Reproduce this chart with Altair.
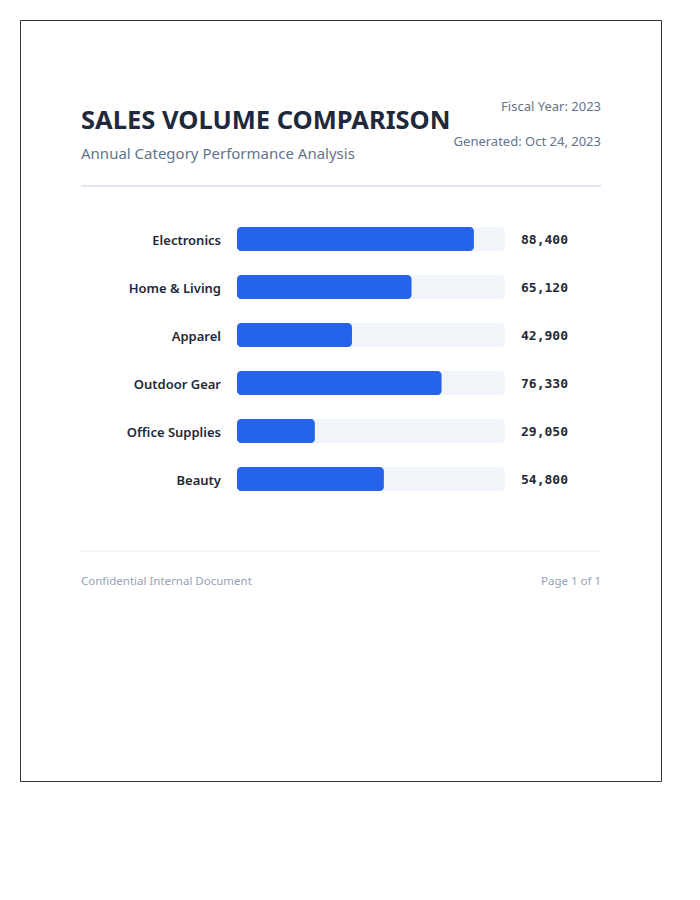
import altair as alt
import pandas as pd

categories = ["Electronics", "Home & Living", "Apparel", "Outdoor Gear", "Office Supplies", "Beauty"]
values = [88400, 65120, 42900, 76330, 29050, 54800]
track_max = 100000

title_text = "SALES VOLUME COMPARISON"
subtitle_text = "Annual Category Performance Analysis"
meta_lines = ["Fiscal Year: 2023", "Generated: Oct 24, 2023"]
footer_left = "Confidential Internal Document"
footer_right = "Page 1 of 1"

SANS = "Segoe UI, Noto Sans, Open Sans, sans-serif"
MONO = "DejaVu Sans Mono, Liberation Mono, monospace"

df = pd.DataFrame({"category": categories, "value": values, "track": [track_max] * len(categories)})

x_scale = alt.Scale(domain=[0, track_max], range=[217, 485], nice=False, zero=True)
y_scale = alt.Scale(domain=categories, range=[195, 483], paddingInner=0.5, paddingOuter=0.25)

base = alt.Chart(df)

track = base.mark_bar(color="#f1f5f9", cornerRadius=4).encode(
    x=alt.X("track:Q", scale=x_scale, axis=None),
    x2=alt.datum(0),
    y=alt.Y("category:N", scale=y_scale, axis=None, sort=categories),
)

bars = base.mark_bar(color="#2563eb", cornerRadius=4).encode(
    x=alt.X("value:Q", scale=x_scale, axis=None),
    x2=alt.datum(0),
    y=alt.Y("category:N", scale=y_scale, axis=None, sort=categories),
)

labels = base.mark_text(align="right", baseline="middle", font=SANS, fontSize=13,
                        fontWeight=600, color="#1e293b", dy=1.5).encode(
    x=alt.value(201),
    y=alt.Y("category:N", scale=y_scale, axis=None, sort=categories),
    text="category:N",
)

vals = base.mark_text(align="left", baseline="middle", font=MONO, fontSize=13,
                      fontWeight="bold", color="#1e293b", dy=1).encode(
    x=alt.value(501),
    y=alt.Y("category:N", scale=y_scale, axis=None, sort=categories),
    text=alt.Text("value:Q", format=","),
)

title = alt.Chart(pd.DataFrame({"t": [title_text]})).mark_text(
    align="left", baseline="alphabetic", font=SANS, fontSize=25.5, fontWeight="bold", color="#1e293b"
).encode(x=alt.value(61), y=alt.value(109), text="t:N")

subtitle = alt.Chart(pd.DataFrame({"t": [subtitle_text]})).mark_text(
    align="left", baseline="middle", font=SANS, fontSize=15, color="#64748b"
).encode(x=alt.value(61), y=alt.value(134), text="t:N")

meta1 = alt.Chart(pd.DataFrame({"t": [meta_lines[0]]})).mark_text(
    align="right", baseline="middle", font=SANS, fontSize=13, color="#64748b"
).encode(x=alt.value(581), y=alt.value(86.5), text="t:N")

meta2 = alt.Chart(pd.DataFrame({"t": [meta_lines[1]]})).mark_text(
    align="right", baseline="middle", font=SANS, fontSize=13, color="#64748b"
).encode(x=alt.value(581), y=alt.value(121.5), text="t:N")

divider = alt.Chart(pd.DataFrame({"a": [0]})).mark_rule(color="#e2e8f0", strokeWidth=2).encode(
    x=alt.value(61), x2=alt.value(581), y=alt.value(166)
)

footer_rule = alt.Chart(pd.DataFrame({"a": [0]})).mark_rule(color="#e8ecf1", strokeWidth=1).encode(
    x=alt.value(61), x2=alt.value(581), y=alt.value(531)
)

foot_l = alt.Chart(pd.DataFrame({"t": [footer_left]})).mark_text(
    align="left", baseline="middle", font=SANS, fontSize=11.5, color="#94a3b8"
).encode(x=alt.value(61), y=alt.value(561.5), text="t:N")

foot_r = alt.Chart(pd.DataFrame({"t": [footer_right]})).mark_text(
    align="right", baseline="middle", font=SANS, fontSize=11.5, color="#94a3b8"
).encode(x=alt.value(581), y=alt.value(561.5), text="t:N")

chart = alt.layer(
    track, bars, labels, vals, title, subtitle, meta1, meta2, divider, footer_rule, foot_l, foot_r
).properties(
    width=641, height=761,
    padding={"left": 20, "top": 20, "right": 4, "bottom": 4},
    autosize=alt.AutoSizeParams(type="none"),
    background="white",
).configure_view(
    stroke="#333333", strokeWidth=1
)

chart.save("out.html", embed_options={"renderer": "svg", "actions": False})
